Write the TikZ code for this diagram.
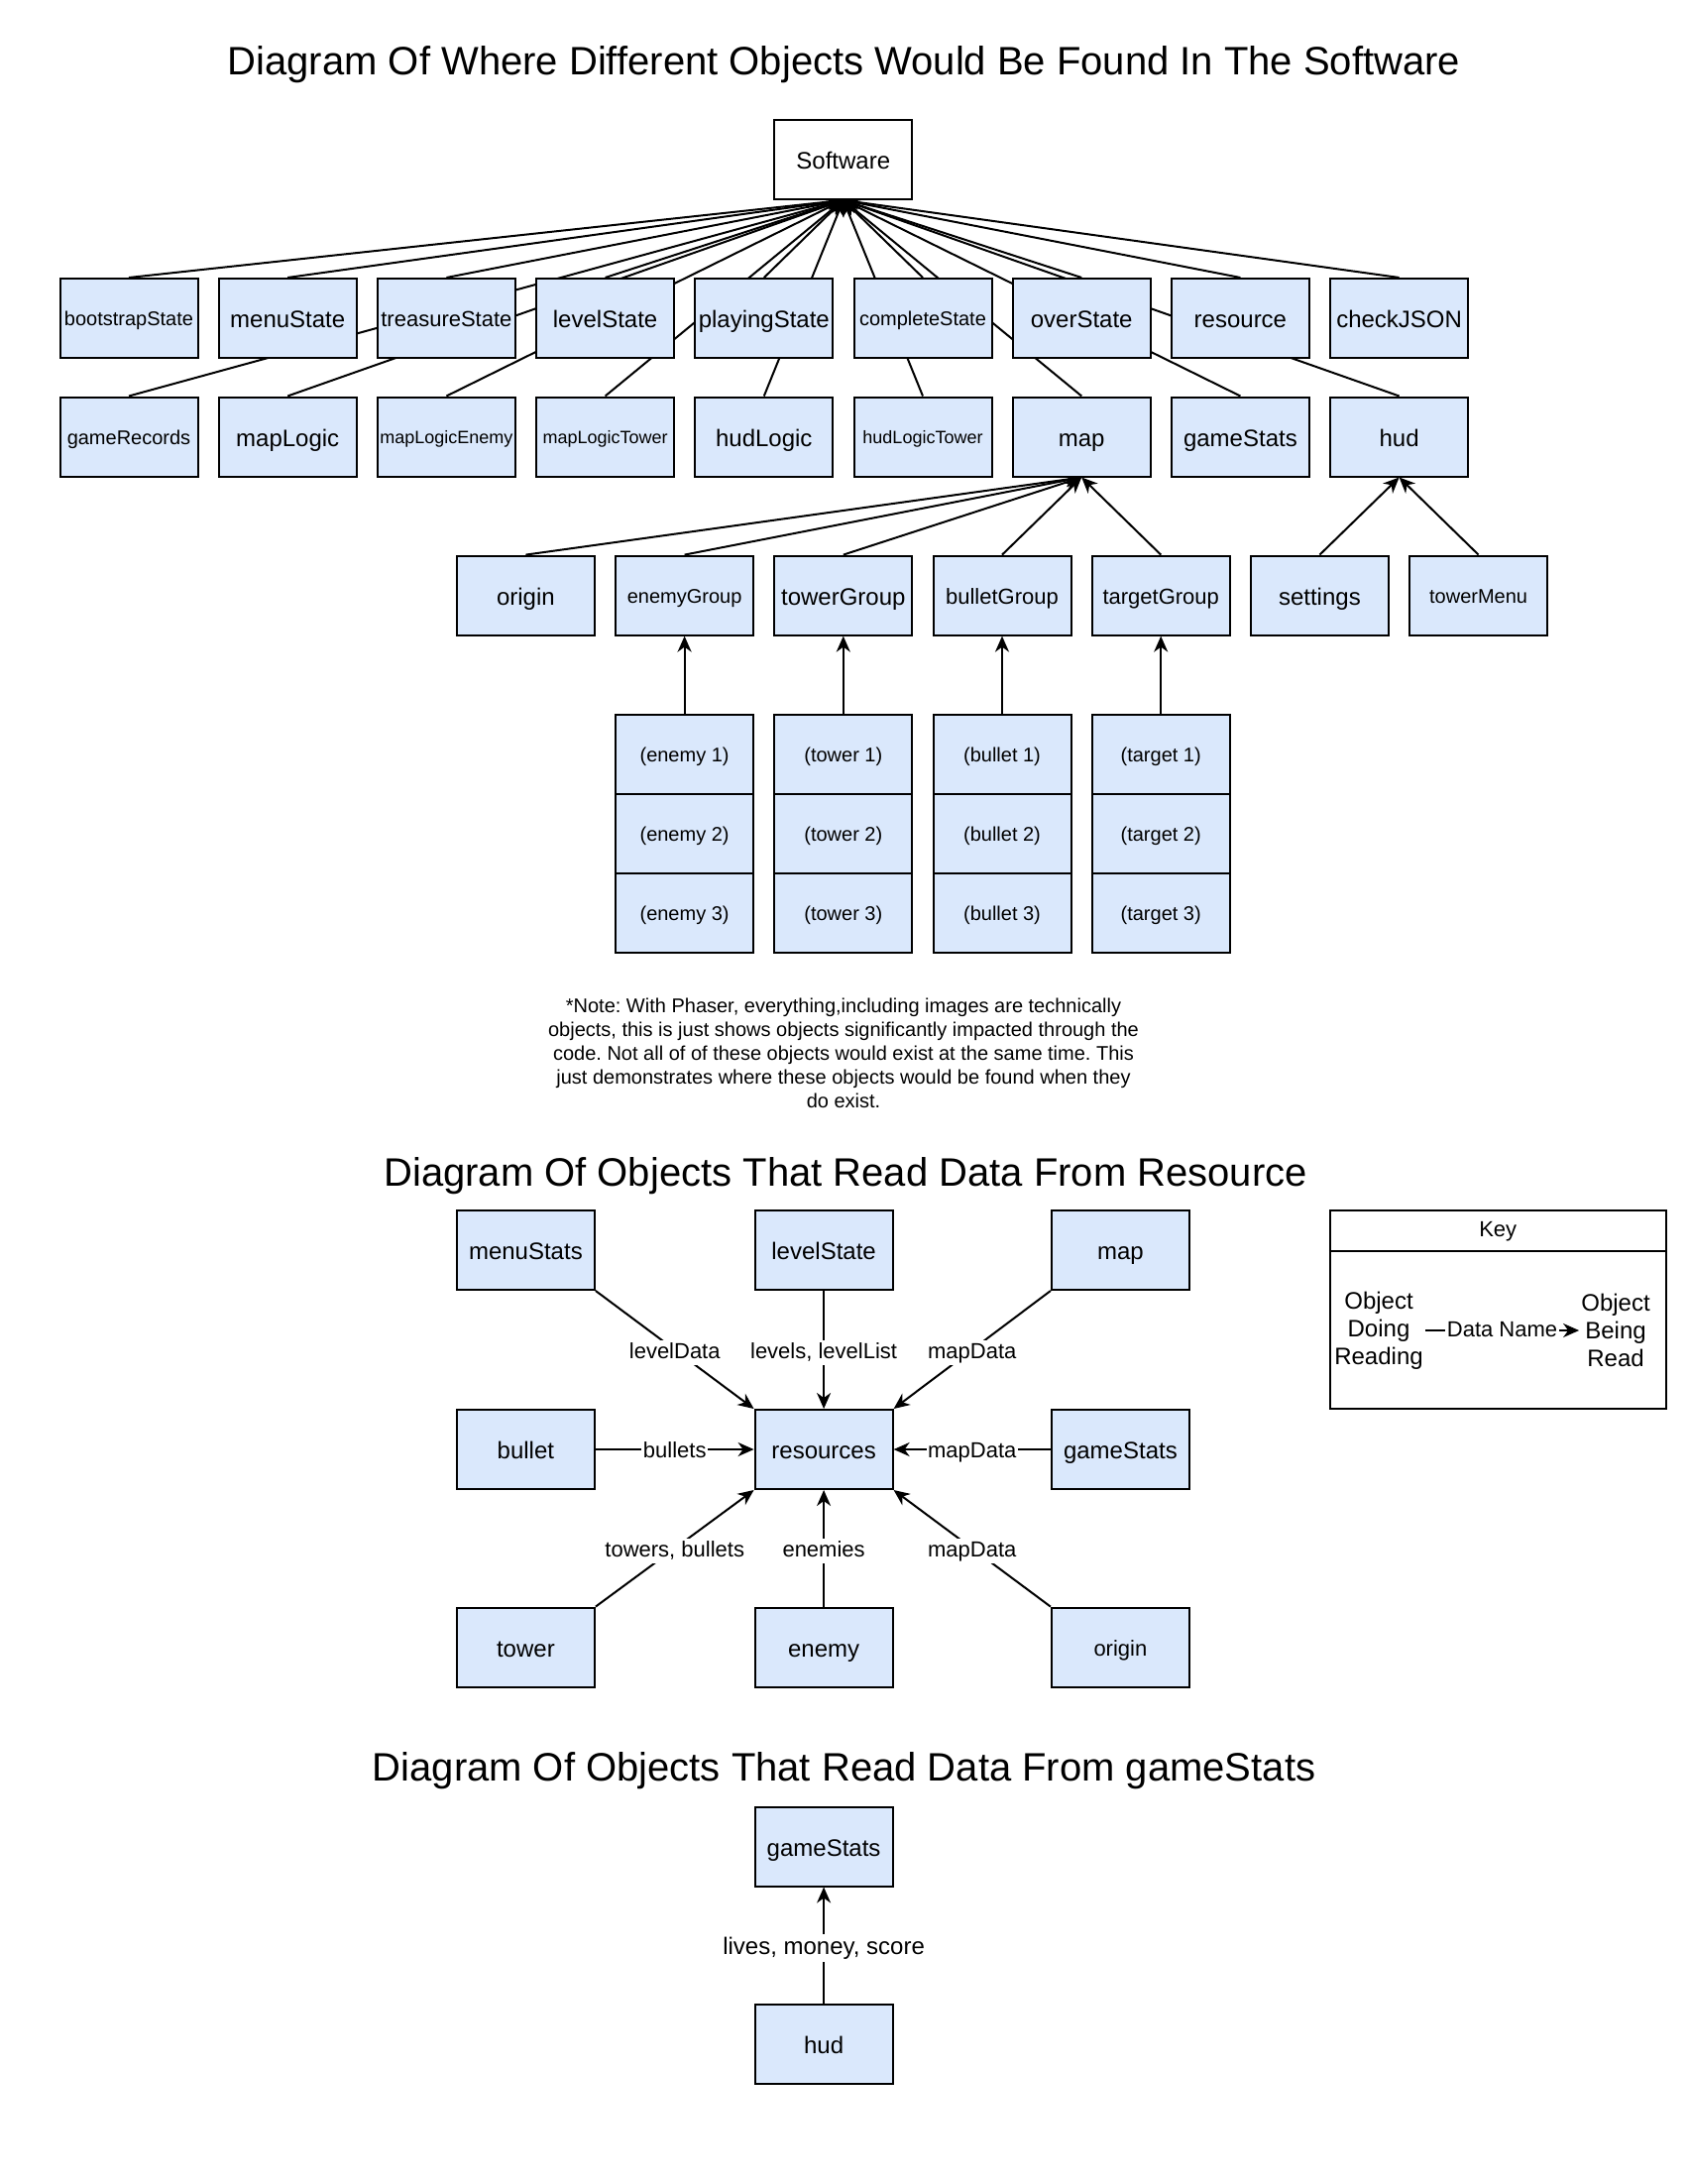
\documentclass[tikz,border=0pt]{standalone}
\usepackage{fontspec}
\setmainfont{Liberation Sans}
\usetikzlibrary{arrows.meta}
\definecolor{boxblue}{HTML}{DAE8FC}
\pgfdeclarelayer{back}
\pgfdeclarelayer{edges}
\pgfsetlayers{back,edges,main}
\frenchspacing
\tikzset{
  fa/.style={font=\fontsize{24}{28}\selectfont},
  fb/.style={font=\fontsize{22}{26}\selectfont},
  fc/.style={font=\fontsize{20}{24}\selectfont},
  fd/.style={font=\fontsize{18}{22}\selectfont},
  ba/.style={fa, text height=19pt, text depth=0pt},
  bb/.style={fb, text height=17.4pt, text depth=0pt},
  bc/.style={fc, text height=15.8pt, text depth=0pt},
  bd/.style={fd, text height=14.2pt, text depth=0pt},
  box/.style={draw=black, fill=boxblue, line width=2pt, minimum width=139pt, minimum height=80pt, inner sep=0pt, ba},
  ttl/.style={font=\fontsize{40}{48}\selectfont, anchor=base, inner sep=0pt},
  arr/.style={line width=2pt, -{Stealth[length=16pt,width=14pt,inset=5pt]}},
  plain/.style={line width=2pt},
  lbl/.style={fill=white, inner sep=1.5pt, fb, text height=17pt, text depth=5pt, yshift=-2.5pt},
  lblbig/.style={fill=white, inner sep=1.5pt, fa, text height=19pt, text depth=5.5pt, yshift=-2.75pt},
}
\begin{document}
\begin{tikzpicture}[x=1pt,y=-1pt]
\begin{pgfonlayer}{back}
\fill[white] (0,0) rectangle (1703,2203);
\end{pgfonlayer}
\useasboundingbox (0,0) rectangle (1703,2203);

% ---------- Diagram 1 ----------
\node[ttl] (t1) at (851.5,75) {Diagram Of Where Different Objects Would Be Found In The Software};
\node[box, fill=white] (sw) at (850.8,160.9) {Software};

\node[box, bc] (bs) at (130,321) {bootstrapState};
\node[box] (ms) at (290.2,321) {menuState};
\node[box, bb] (ts) at (450.4,321) {treasureState};
\node[box] (ls) at (610.6,321) {levelState};
\node[box] (ps) at (770.8,321) {playingState};
\node[box, bc] (cs) at (931,321) {completeState};
\node[box] (os) at (1091.2,321) {overState};
\node[box] (rs) at (1251.4,321) {resource};
\node[box] (cj) at (1411.6,321) {checkJSON};

\node[box, bc] (gr) at (130,440.5) {gameRecords};
\node[box] (ml) at (290.2,440.5) {mapLogic};
\node[box, bd] (mle) at (450.4,440.5) {mapLogicEnemy};
\node[box, bd] (mlt) at (610.6,440.5) {mapLogicTower};
\node[box] (hl) at (770.8,440.5) {hudLogic};
\node[box, bd] (hlt) at (931,440.5) {hudLogicTower};
\node[box] (map) at (1091.2,440.5) {map};
\node[box] (gs) at (1251.4,440.5) {gameStats};
\node[box] (hud) at (1411.6,440.5) {hud};

\node[box] (org) at (530.4,600.6) {origin};
\node[box, bc] (eg) at (690.6,600.6) {enemyGroup};
\node[box] (tg) at (850.8,600.6) {towerGroup};
\node[box, bb] (bg) at (1011,600.6) {bulletGroup};
\node[box, bb] (tgg) at (1171.2,600.6) {targetGroup};
\node[box] (set) at (1331.4,600.6) {settings};
\node[box, bc] (tm) at (1491.6,600.6) {towerMenu};

\node[box, bc] (e1) at (690.6,760.8) {(enemy 1)};
\node[box, bc] (e2) at (690.6,840.9) {(enemy 2)};
\node[box, bc] (e3) at (690.6,921) {(enemy 3)};
\node[box, bc] (w1) at (850.8,760.8) {(tower 1)};
\node[box, bc] (w2) at (850.8,840.9) {(tower 2)};
\node[box, bc] (w3) at (850.8,921) {(tower 3)};
\node[box, bc] (b1) at (1011,760.8) {(bullet 1)};
\node[box, bc] (b2) at (1011,840.9) {(bullet 2)};
\node[box, bc] (b3) at (1011,921) {(bullet 3)};
\node[box, bc] (g1) at (1171.2,760.8) {(target 1)};
\node[box, bc] (g2) at (1171.2,840.9) {(target 2)};
\node[box, bc] (g3) at (1171.2,921) {(target 3)};

\begin{pgfonlayer}{edges}
\foreach \n in {bs,ms,ts,ls,ps,cs,os,rs,cj,gr,ml,mle,mlt,hl,hlt,map,gs,hud}
  \draw[arr] (\n.north) -- (sw.south);
\foreach \n in {org,eg,tg,bg,tgg}
  \draw[arr] (\n.north) -- (map.south);
\foreach \n in {set,tm}
  \draw[arr] (\n.north) -- (hud.south);
\draw[arr] (e1.north) -- (eg.south);
\draw[arr] (w1.north) -- (tg.south);
\draw[arr] (b1.north) -- (bg.south);
\draw[arr] (g1.north) -- (tgg.south);
\end{pgfonlayer}

\node[fc, align=center] (note) at (851,1062) {*Note: With Phaser, everything,including images are technically\\objects, this is just shows objects significantly impacted through the\\code. Not all of of these objects would exist at the same time. This\\just demonstrates where these objects would be found when they\\do exist.};

% ---------- Diagram 2 ----------
\node[ttl] (t2) at (853,1196) {Diagram Of Objects That Read Data From Resource};
\node[box] (mst) at (530.4,1261) {menuStats};
\node[box] (lst) at (831.1,1261) {levelState};
\node[box] (mp2) at (1130.4,1261) {map};
\node[box] (bul) at (530.4,1462) {bullet};
\node[box] (res) at (831.1,1462) {resources};
\node[box] (gs2) at (1130.4,1462) {gameStats};
\node[box] (tow) at (530.4,1661.6) {tower};
\node[box] (ene) at (831.1,1661.6) {enemy};
\node[box, bb] (ori) at (1130.4,1661.6) {origin};

\begin{pgfonlayer}{edges}
\draw[arr] (mst.south east) -- node[lbl]{levelData} (res.north west);
\draw[arr] (lst.south) -- node[lbl]{levels, levelList} (res.north);
\draw[arr] (mp2.south west) -- node[lbl]{mapData} (res.north east);
\draw[arr] (bul.east) -- node[lbl]{bullets} (res.west);
\draw[arr] (gs2.west) -- node[lbl]{mapData} (res.east);
\draw[arr] (tow.north east) -- node[lbl]{towers, bullets} (res.south west);
\draw[arr] (ene.north) -- node[lbl]{enemies} (res.south);
\draw[arr] (ori.north west) -- node[lbl]{mapData} (res.south east);
\end{pgfonlayer}

% Key
\node[draw=black, line width=2pt, minimum width=338.6pt, minimum height=199.5pt, inner sep=0pt] (key) at (1511.2,1320.75) {};
\coordinate (kl) at (key.west |- 0,1261.8);
\coordinate (kr) at (key.east |- 0,1261.8);
\draw[plain] (kl) -- (kr);
\node[fb] (keyt) at (1511.2,1242) {Key};
\node[fa, align=center, inner sep=2pt] (kd) at (1391,1342) {Object\\Doing\\Reading};
\node[fa, align=center, inner sep=2pt] (kb) at (1630,1342) {Object\\Being\\Read};
\draw[arr] (kd.east) -- node[lbl, yshift=2.5pt]{Data Name} (kb.west);

% ---------- Diagram 3 ----------
\node[ttl] (t3) at (851.5,1796) {Diagram Of Objects That Read Data From gameStats};
\node[box] (gs3) at (831.1,1862.5) {gameStats};
\node[box] (hud3) at (831.1,2062) {hud};
\begin{pgfonlayer}{edges}
\draw[arr] (hud3.north) -- node[lblbig]{lives, money, score} (gs3.south);
\end{pgfonlayer}
\end{tikzpicture}
\end{document}
